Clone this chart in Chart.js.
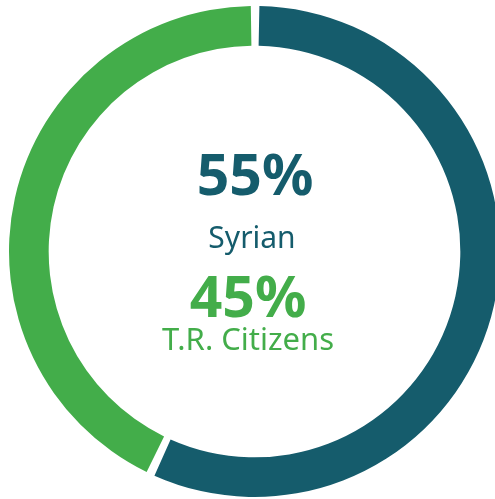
<!DOCTYPE html>
<html>
<head>
<meta charset="utf-8">
<script src="https://cdn.jsdelivr.net/npm/chart.js@4"></script>
<style>
  html, body { margin: 0; padding: 0; background: #fff; overflow: hidden; }
  #wrap { position: absolute; left: 0; top: 0; width: 509px; height: 499px; }
</style>
</head>
<body>
<div id="wrap"><canvas id="myChart" width="509" height="499"></canvas></div>
<script>
const categorias = ['Syrian', 'T.R. Citizens'];
const valores = [57, 43];
const etiquetas = ['55%', '45%'];
const colores = ['#155c6c', '#43ad4a'];

const textoCentro = {
  id: 'textoCentro',
  afterDraw(chart) {
    const ctx = chart.ctx;
    const cx = 255;
    ctx.save();
    ctx.textAlign = 'center';
    ctx.textBaseline = 'alphabetic';

    ctx.fillStyle = colores[0];
    ctx.font = 'bold 57px "Noto Sans"';
    ctx.fillText(etiquetas[0], cx, 195);
    ctx.font = '30px "Noto Sans"';
    ctx.fillText(categorias[0], cx - 3, 248);

    ctx.fillStyle = colores[1];
    ctx.font = 'bold 57px "Noto Sans"';
    ctx.fillText(etiquetas[1], cx - 7, 317);
    ctx.font = '31px "Noto Sans"';
    ctx.fillText(categorias[1], cx - 7, 350);
    ctx.restore();
  }
};

new Chart(document.getElementById('myChart'), {
  type: 'doughnut',
  data: {
    labels: categorias,
    datasets: [{
      data: valores,
      backgroundColor: colores,
      borderWidth: 0,
      spacing: 5
    }]
  },
  options: {
    responsive: false,
    animation: false,
    radius: 243,
    cutout: 205,
    layout: { padding: { top: 4 } },
    plugins: {
      legend: { display: false },
      tooltip: { enabled: false }
    }
  },
  plugins: [textoCentro]
});
</script>
</body>
</html>
